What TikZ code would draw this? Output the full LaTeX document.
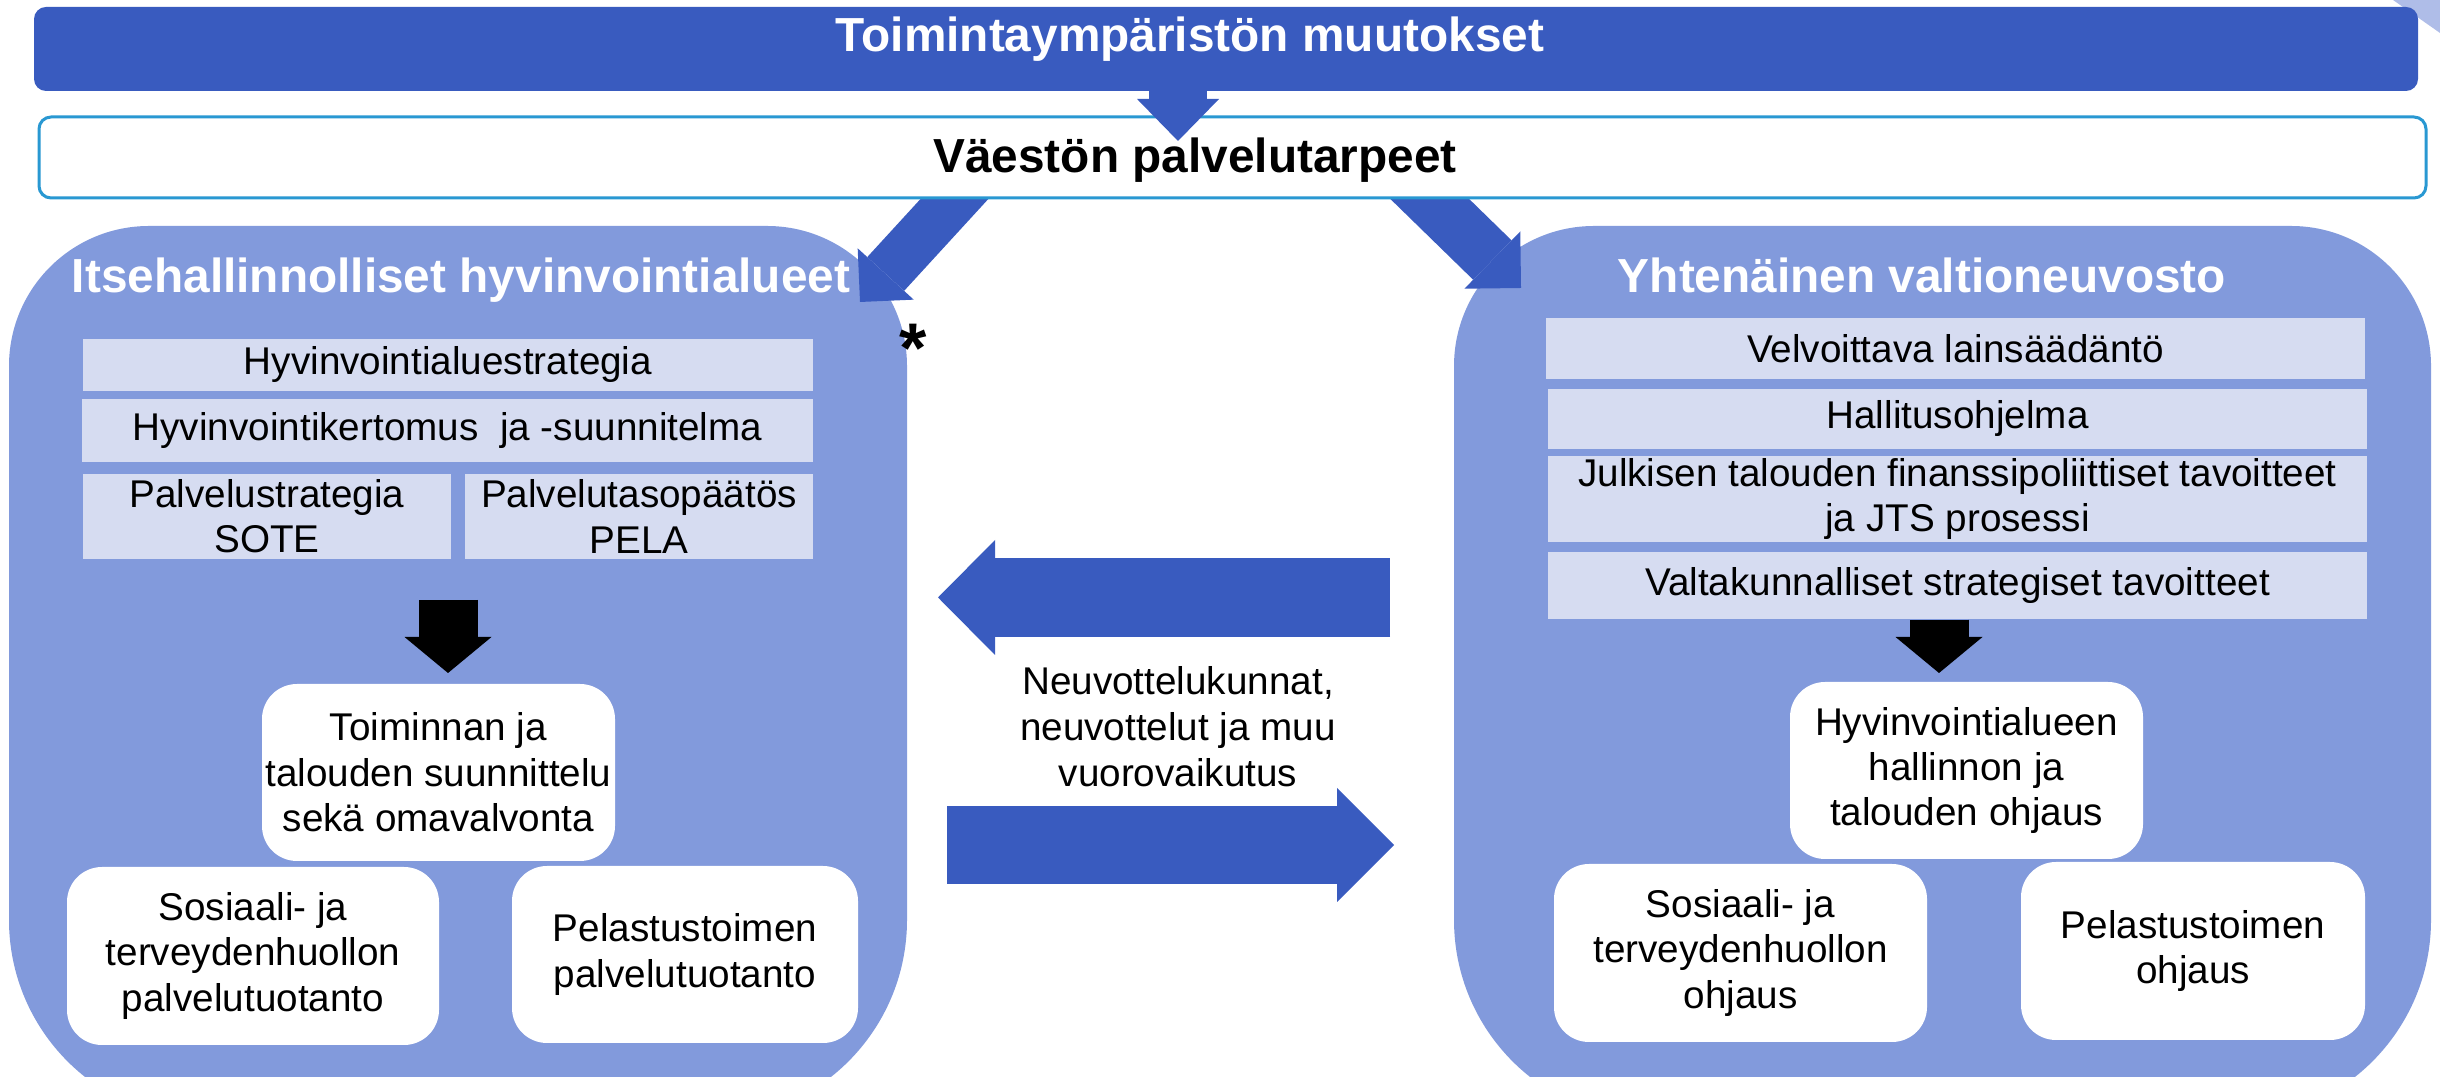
\documentclass[tikz,border=0pt]{standalone}
\usepackage{fontspec}
\setmainfont{Liberation Sans}
\usetikzlibrary{arrows.meta,backgrounds}

\definecolor{barblue}{RGB}{57,91,191}
\definecolor{panelblue}{RGB}{130,154,220}
\definecolor{paleblue}{RGB}{214,220,241}
\definecolor{rimblue}{RGB}{41,152,210}
\definecolor{cornerblue}{RGB}{175,189,232}

\newcommand{\headfont}{\fontsize{13.6}{16}\selectfont\bfseries}
\newcommand{\bodyfont}{\fontsize{11}{12.9}\selectfont}

\tikzset{
  dims/.style 2 args={minimum width=#1, minimum height=#2},
  lightbox/.style={fill=paleblue, inner sep=0pt, align=center, font=\bodyfont},
  whitebox/.style={fill=white, rounded corners=3.5mm, inner sep=0pt, align=center, font=\bodyfont},
  heading/.style={anchor=base, inner sep=0pt, font=\headfont},
  fatarrow/.style n args={4}{draw=#1, line width=#2, -{Triangle[width=#3, length=#4, line width=0pt]}},
}

\begin{document}
\begin{tikzpicture}[x=0.1mm, y=-0.1mm]

  \useasboundingbox (0,0) rectangle (2440,1077);

  \coordinate (popTip) at (1178,141);
  \coordinate (leftTip) at (860,302);
  \coordinate (rightTip) at (1521,288);
  \coordinate (negR) at (1390,597.5);
  \coordinate (negL) at (938,597.5);
  \coordinate (neuL) at (947,845);
  \coordinate (neuR) at (1394,845);
  \coordinate (lDown) at (448,600);
  \coordinate (lDownTip) at (448,673);
  \coordinate (rDownTip) at (1939,673);

  \begin{scope}[on background layer]
    \clip (0,0) rectangle (2440,1077);
    \fill[cornerblue] (2393,0) -- (2440,0) -- (2440,33) -- cycle;
    \fill[panelblue] (9,1120) [rounded corners=20mm] -- (9,700) [rounded corners=14mm] -- (9,226)
      -- (907,226) -- (907,700) [rounded corners=20mm] -- (907,1120) -- cycle;
    \fill[panelblue] (1454,1120) [rounded corners=20mm] -- (1454,700) [rounded corners=14mm] -- (1454,226)
      -- (2431,226) -- (2431,700) [rounded corners=20mm] -- (2431,1120) -- cycle;
    \draw [fatarrow={barblue}{5mm}{7.6mm}{3.8mm}] (981,170) -- (leftTip);
    \draw [fatarrow={barblue}{5.5mm}{8mm}{4mm}] (1400,170) -- (rightTip);
  \end{scope}

  \node[draw=rimblue, line width=0.3mm, fill=white, rounded corners=1.2mm, dims={238.7mm}{8.1mm}] (pop) at (1232.5,157.5) {};
  \node[fill=barblue, rounded corners=1.2mm, dims={238.4mm}{8.4mm}] (bar) at (1226,49) {};
  \draw [fatarrow={barblue}{5.8mm}{8.2mm}{4.2mm}] ([yshift=1mm]bar.south -| popTip) -- (popTip);

  \node[heading, text=white] (barT) at (1190,52) {Toimintaympäristön muutokset};
  \node[heading] (popT) at (1195,173) {Väestön palvelutarpeet};
  \node[heading, text=white] (leftT) at (461,293) {Itsehallinnolliset hyvinvointialueet};
  \node[heading, text=white] (rightT) at (1922,293) {Yhtenäinen valtioneuvosto};
  \node[anchor=base, inner sep=0pt, font=\fontsize{20}{22}\selectfont\bfseries] (star) at (913,373) {*};

  \node[lightbox, dims={73mm}{5.2mm}] (strat) at (448,365) {Hyvinvointialuestrategia};
  \node[lightbox, dims={73.1mm}{6.3mm}] (kert) at (447.5,430.5) {Hyvinvointikertomus\ \ ja -suunnitelma};
  \node[lightbox, dims={36.8mm}{8.5mm}] (sote) at (267,516.5) {Palvelustrategia\\SOTE};
  \node[lightbox, dims={34.8mm}{8.5mm}] (pela) at (639,516.5) {Palvelutasopäätös\\PELA};

  \node[lightbox, dims={81.9mm}{6.1mm}] (velv) at (1955.5,348.5) {Velvoittava lainsäädäntö};
  \node[lightbox, dims={81.9mm}{6mm}] (hall) at (1957.5,419) {Hallitusohjelma};
  \node[lightbox, dims={81.9mm}{8.6mm}] (jts) at (1957.5,499) {Julkisen talouden finanssipoliittiset tavoitteet\\ja JTS prosessi};
  \node[lightbox, dims={81.9mm}{6.7mm}] (valt) at (1957.5,585.5) {Valtakunnalliset strategiset tavoitteet};

  \node[whitebox, dims={35.3mm}{17.7mm}] (plan) at (438.5,772.5) {Toiminnan ja\\talouden suunnittelu\\sekä omavalvonta};
  \node[whitebox, dims={37.2mm}{17.8mm}] (soteTuot) at (253,956) {Sosiaali- ja\\terveydenhuollon\\palvelutuotanto};
  \node[whitebox, dims={34.6mm}{17.7mm}] (pelaTuot) at (685,954.5) {Pelastustoimen\\palvelutuotanto};

  \node[whitebox, dims={35.3mm}{17.7mm}] (ohj) at (1966.5,770.5) {Hyvinvointialueen\\hallinnon ja\\talouden ohjaus};
  \node[whitebox, dims={37.3mm}{17.8mm}] (soteOhj) at (1740.5,953) {Sosiaali- ja\\terveydenhuollon\\ohjaus};
  \node[whitebox, dims={34.4mm}{17.8mm}] (pelaOhj) at (2193,951) {Pelastustoimen\\ohjaus};

  \node[align=center, inner sep=0pt, font=\fontsize{11}{13.1}\selectfont] (neuv) at (1178,727) {Neuvottelukunnat,\\neuvottelut ja muu\\vuorovaikutus};

  \draw [fatarrow={barblue}{7.9mm}{11.5mm}{5.7mm}] (negR) -- (negL);
  \draw [fatarrow={barblue}{7.8mm}{11.4mm}{5.7mm}] (neuL) -- (neuR);
  \draw [fatarrow={black}{5.9mm}{8.7mm}{3.6mm}] (lDown) -- (lDownTip);
  \draw [fatarrow={black}{5.9mm}{8.7mm}{3.6mm}] (valt.south -| rDownTip) -- (rDownTip);

\end{tikzpicture}
\end{document}
